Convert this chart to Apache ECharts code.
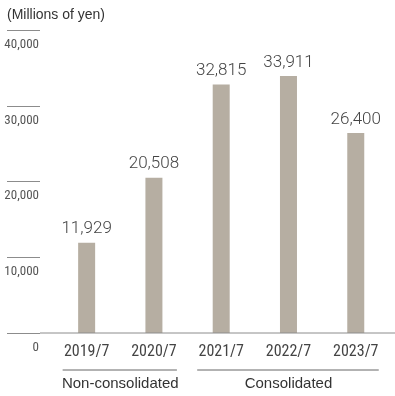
<!DOCTYPE html>
<html>
<head>
<meta charset="utf-8">
<script src="https://cdn.jsdelivr.net/npm/echarts@6/dist/echarts.min.js"></script>
<style>
  html, body { margin: 0; padding: 0; background: #fff; }
  #chart { width: 395px; height: 396px; }
</style>
</head>
<body>
<div id="chart"></div>
<script>
// Net sales by fiscal year (July year-end)
const categories = ['2019/7', '2020/7', '2021/7', '2022/7', '2023/7'];
const sales = [11929, 20508, 32815, 33911, 26400];

// Y scale
const yMin = 0;
const yMax = 40000;
const yStep = 10000;

// Reporting basis groups under the category labels
const groupNames = ['Non-consolidated', 'Consolidated'];
const groupFirst = [0, 2];
const groupLast = [1, 4];

const condensed = '"Liberation Sans Narrow", "Roboto Condensed", "DejaVu Sans Condensed", sans-serif';
const plain = '"Liberation Sans", Arial, sans-serif';

const chart = echarts.init(document.getElementById('chart'), null, { renderer: 'canvas' });

chart.setOption({
  animation: false,
  backgroundColor: '#ffffff',
  title: {
    text: '(Millions of yen)',
    left: 7,
    top: 8,
    padding: 0,
    textStyle: { fontFamily: plain, fontSize: 14, fontWeight: 'normal', color: '#333' }
  },
  grid: { left: 53, right: 5.6, top: 30, bottom: 63, containLabel: false },
  xAxis: {
    type: 'category',
    data: categories,
    axisLine: { show: false },
    axisTick: { show: false },
    axisLabel: {
      margin: 11,
      fontFamily: condensed,
      fontSize: 16,
      color: '#444'
    }
  },
  yAxis: {
    type: 'value',
    min: yMin,
    max: yMax,
    interval: yStep,
    offset: 13,
    axisLine: { show: false },
    axisTick: { show: true, length: 33, lineStyle: { color: '#8c8c8c', width: 1 } },
    splitLine: { show: false },
    axisLabel: {
      margin: 1,
      align: 'right',
      verticalAlign: 'top',
      padding: [8, 0, 0, 0],
      fontFamily: condensed,
      fontSize: 13,
      color: '#555',
      formatter: v => v.toLocaleString('en-US')
    }
  },
  series: [{
    type: 'bar',
    data: sales,
    barWidth: 17,
    itemStyle: { color: '#b6aea2' },
    label: {
      show: true,
      position: 'top',
      distance: 5,
      fontFamily: 'Roboto, sans-serif',
      fontWeight: 300,
      fontSize: 17,
      color: '#444',
      formatter: p => p.value.toLocaleString('en-US')
    }
  }]
});

// Baseline and group brackets placed from the axis scale
function drawAnnotations() {
  const y0 = chart.convertToPixel({ gridIndex: 0 }, [0, yMin])[1];
  const elements = [{
    type: 'line',
    shape: { x1: 40, y1: y0, x2: 395, y2: y0 },
    style: { stroke: '#8c8c8c', lineWidth: 1 },
    z: 10
  }];
  groupNames.forEach((name, g) => {
    const xa = chart.convertToPixel({ gridIndex: 0 }, [groupFirst[g], 0])[0];
    const xb = chart.convertToPixel({ gridIndex: 0 }, [groupLast[g], 0])[0];
    elements.push({
      type: 'line',
      shape: { x1: xa - 24, y1: y0 + 37, x2: xb + 23, y2: y0 + 37 },
      style: { stroke: '#666', lineWidth: 1 }
    });
    elements.push({
      type: 'text',
      x: (xa + xb) / 2,
      y: y0 + 51,
      style: {
        text: name,
        align: 'center',
        verticalAlign: 'middle',
        font: '15px ' + plain,
        fill: '#333'
      }
    });
  });
  chart.setOption({ graphic: elements });
}
drawAnnotations();
</script>
</body>
</html>
